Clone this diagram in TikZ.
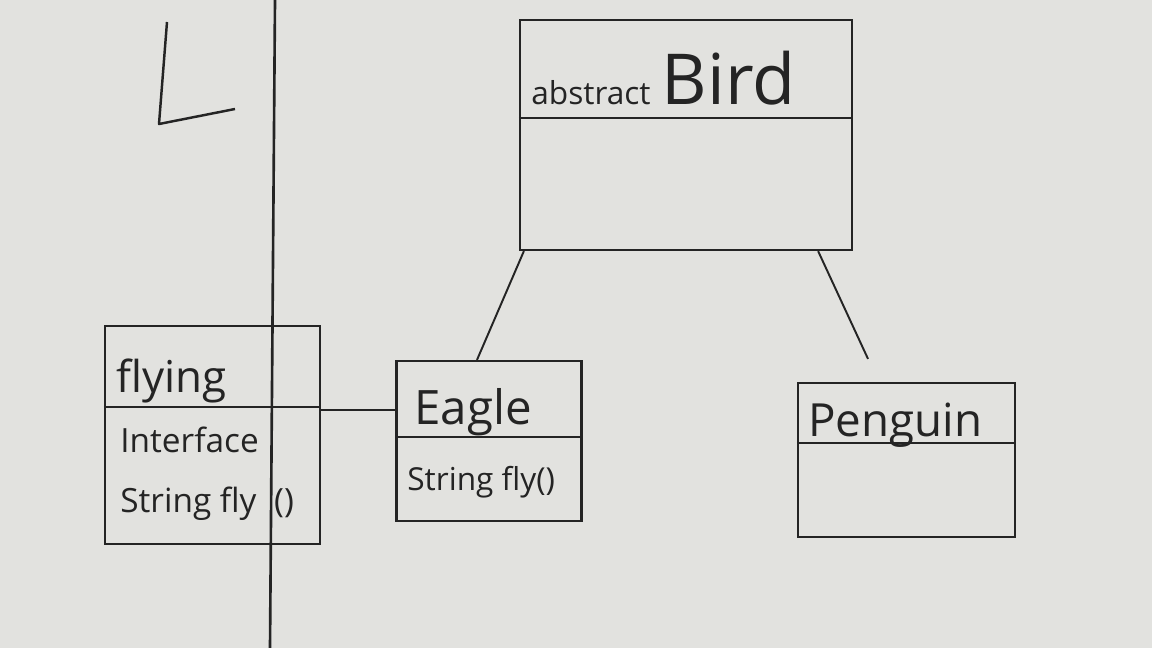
\documentclass[tikz,border=0pt]{standalone}
\usepackage{fontspec}
\setmainfont{Open Sans}
\usepackage{xcolor}
\usepackage{tikz}
\usetikzlibrary{positioning,calc}
\definecolor{clrInk}{RGB}{36,36,36}
\definecolor{bgBoard}{RGB}{226,226,223}
\tikzset{
  classbox/.style={rectangle,draw=clrInk,line width=1.3pt,inner sep=0pt},
  divider/.style={draw=clrInk,line width=1.1pt},
  cname/.style={anchor=base west,inner sep=0pt,text=clrInk,
    font=\fontsize{25pt}{30pt}\selectfont},
  member/.style={anchor=base west,inner sep=0pt,text=clrInk,
    font=\fontsize{19pt}{23pt}\selectfont},
  link/.style={draw=clrInk,line width=1.1pt}
}
\begin{document}
\begin{tikzpicture}[x=0.02cm,y=-0.02cm]
  \fill[bgBoard] (0,0) rectangle (1152,648);
  \useasboundingbox (0,0) rectangle (1152,648);
  % line down the board
  \draw[clrInk,line width=1.5pt] (275,0) -- (270,648);
  \draw[clrInk,line width=1.4pt,line join=round] (167,22) -- (159,124) -- (235,109);
  % classes
  \node[classbox,minimum width=6.64cm,minimum height=4.6cm] (bird) at (686,135) {};
  \node[classbox,minimum width=4.3cm,minimum height=4.36cm] (flying) at (212.5,435) {};
  \node[classbox,minimum width=3.7cm,minimum height=3.2cm] (eagle) at (489,441) {};
  \node[classbox,minimum width=4.34cm,minimum height=3.08cm] (penguin) at (906.5,460) {};
  \draw[divider] (bird.west |- 0,118) -- (bird.east |- 0,118);
  \draw[divider] (flying.west |- 0,407) -- (flying.east |- 0,407);
  \draw[divider] (eagle.west |- 0,437) -- (eagle.east |- 0,437);
  \draw[divider] (penguin.west |- 0,443) -- (penguin.east |- 0,443);
  % names and members
  \node[member,font=\fontsize{18pt}{22pt}\selectfont] (birdkind) at (531,105) {abstract};
  \node[cname,font=\fontsize{40pt}{46pt}\selectfont,right=6pt of birdkind.base east,anchor=base west] (birdname) {Bird};
  \node[cname] (flyingname) at (116,392) {flying};
  \node[member] (flyingkind) at (120,452) {Interface};
  \node[member] (flyingop) at (120,512) {String fly\kern10pt()};
  \node[cname,font=\fontsize{27pt}{32pt}\selectfont] (eaglename) at (414,424) {Eagle};
  \node[member,font=\fontsize{18pt}{22pt}\selectfont] (eagleop) at (407,490) {String fly()};
  \node[cname,font=\fontsize{26pt}{31pt}\selectfont] (penguinname) at (808,436) {Penguin};
  % associations
  \coordinate (penguintip) at ([xshift=-0.77cm,yshift=0.46cm]penguin.north);
  \draw[link] ([xshift=0.1cm]bird.south west) -- ([xshift=-0.24cm]eagle.north);
  \draw[link] ([xshift=-0.7cm]bird.south east) -- (penguintip);
  \draw[link] ([yshift=0.5cm]flying.east) -- ([yshift=0.62cm]eagle.west);
\end{tikzpicture}
\end{document}
